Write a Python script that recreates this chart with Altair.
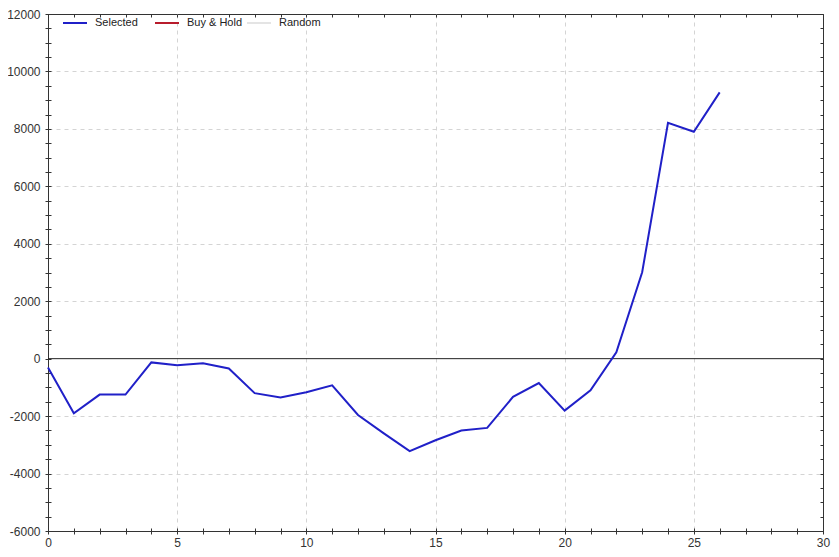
import altair as alt
import pandas as pd

# ---- data ----
steps = list(range(27))
selected = [-310, -1900, -1250, -1250, -130, -230, -160, -340, -1200, -1350,
            -1170, -930, -1960, -2600, -3220, -2840, -2500, -2410, -1330, -850,
            -1810, -1100, 220, 3010, 8210, 7900, 9270]
series_names = ["Selected", "Buy & Hold", "Random"]
series_colors = ["#2020c8", "#b81c2c", "#e4e4e4"]
zero_line = [0]
x_ticks = list(range(0, 31))
y_ticks = list(range(-6000, 12001, 500))

df = pd.DataFrame({"t": steps, "v": selected, "series": ["Selected"] * len(steps)})
zdf = pd.DataFrame({"z": zero_line})

FONT = "Liberation Sans"
AX = "#333333"

xscale = alt.Scale(domain=[0, 30], nice=False)
yscale = alt.Scale(domain=[-6000, 12000], nice=False)

grid_common = dict(gridColor="#d4d4d4", gridDash=[4, 4], gridWidth=1)

x_bottom = alt.Axis(
    orient="bottom", values=x_ticks, title=None, domain=False, offset=-3,
    tickSize=6, tickColor=AX, labelFont=FONT, labelFontSize=12, labelColor=AX,
    labelPadding=3, labelExpr="datum.value % 5 === 0 ? '' + datum.value : ''",
    labelFlush=False, labelOverlap=False,
    grid=True,
    gridOpacity={"condition": {"test": "datum.value % 5 === 0 && datum.value > 0 && datum.value < 30", "value": 1}, "value": 0},
    **grid_common,
)
y_left = alt.Axis(
    orient="left", values=y_ticks, title=None, domain=False, offset=-3,
    tickSize=6, tickColor=AX, labelFont=FONT, labelFontSize=12, labelColor=AX,
    labelPadding=5, labelExpr="datum.value % 2000 === 0 ? '' + datum.value : ''",
    labelFlush=False, labelOverlap=False,
    grid=True,
    gridOpacity={"condition": {"test": "datum.value % 2000 === 0 && datum.value != 0 && datum.value > -6000 && datum.value < 12000", "value": 1}, "value": 0},
    **grid_common,
)
x_top = alt.Axis(orient="top", values=x_ticks, title=None, domain=False, offset=-3,
                 tickSize=3, tickColor=AX, labels=False, grid=False)
y_right = alt.Axis(orient="right", values=y_ticks, title=None, domain=False, offset=-3,
                   tickSize=3, tickColor=AX, labels=False, grid=False)

legend = alt.Legend(
    orient="none", legendX=14, legendY=-4, direction="horizontal", columns=3,
    gridAlign="all", columnPadding=0, symbolType="stroke", symbolSize=576,
    symbolStrokeWidth=2, labelOffset=7, labelFont=FONT, labelFontSize=11,
    labelColor="#222222", padding=0, title=None,
)

zero = alt.Chart(zdf).mark_rule(color="#222222", strokeWidth=1).encode(
    y=alt.Y("z:Q", scale=yscale, axis=None)
)

line = alt.Chart(df).mark_line(strokeWidth=2).encode(
    x=alt.X("t:Q", scale=xscale, axis=x_bottom),
    y=alt.Y("v:Q", scale=yscale, axis=y_left),
    color=alt.Color("series:N", scale=alt.Scale(domain=series_names, range=series_colors), legend=legend),
)

frame = alt.Chart(df).mark_line(opacity=0).encode(
    x=alt.X("t:Q", scale=xscale, axis=x_top),
    y=alt.Y("v:Q", scale=yscale, axis=y_right),
)

chart = (
    alt.layer(zero, line, frame)
    .resolve_axis(x="independent", y="independent")
    .properties(
        width=775, height=517,
        autosize=alt.AutoSizeParams(type="none"),
        padding={"left": 40, "top": 6, "right": 8, "bottom": 18},
        background="white",
    )
    .configure_view(stroke=AX, strokeWidth=1)
)

chart.save("out.html", embed_options={"renderer": "svg", "actions": False})
